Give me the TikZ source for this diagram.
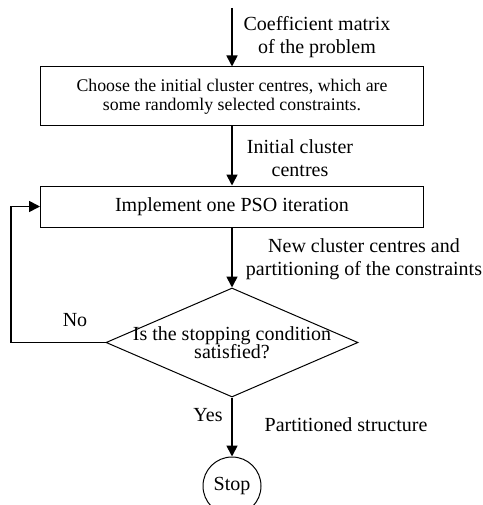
\documentclass[tikz,border=0pt]{standalone}
\usepackage{fontspec}
\setmainfont{Liberation Serif}
\usetikzlibrary{shapes,arrows.meta,calc,positioning}
\tikzset{>={Triangle[length=11pt,width=11pt]}}
\tikzset{
  procbox/.style={draw, line width=1pt, minimum width=383pt, inner sep=0pt, align=center},
  flowline/.style={line width=1.7pt, ->},
  lbl/.style={align=center, inner sep=0pt, font=\fontsize{20}{23}\selectfont},
}

\begin{document}
\begin{tikzpicture}[x=1pt,y=1pt]
  \useasboundingbox (0,0) rectangle (482,-505);

  \coordinate (in) at (232,-8);
  \node[procbox, minimum height=59pt, font=\fontsize{17.8}{19.5}\selectfont] (choose) at (232,-96.5)
    {Choose the initial cluster centres, which are\\some randomly selected constraints.};
  \node[procbox, minimum height=41pt, font=\fontsize{20}{23}\selectfont] (impl) at (232,-206.5)
    {Implement one PSO iteration};
  \node[draw, line width=1pt, diamond, aspect=2.31, inner xsep=-30pt, inner ysep=0pt,
        minimum width=252pt, minimum height=109pt, align=center,
        font=\fontsize{20}{18.5}\selectfont] (dec) at (232,-342.5)
    {Is the stopping condition\\satisfied?};
  \node[draw, line width=1pt, circle, minimum size=58pt, inner sep=0pt,
        font=\fontsize{20}{23}\selectfont] (stop) at (232,-486) {Stop};
  \coordinate (back) at (11,-342.5);

  % connectors
  \draw[flowline] (in) -- (choose.north);
  \draw[flowline] (choose.south) -- (impl.north);
  \draw[flowline] (impl.south) -- (dec.north);
  \draw[flowline] (dec.south) -- (stop.north);
  \draw[flowline] (dec.west) -- (back) |- (impl.west);

  % labels
  \node[lbl] (coef) at (317,-37) {Coefficient matrix\\of the problem};
  \node[lbl] (init) at (300,-158) {Initial cluster\\centres};
  \node[lbl] (newc) at (364,-259) {New cluster centres and\\partitioning of the constraints};
  \node[lbl] (no) at (75,-320) {No};
  \node[lbl] (yes) at (208,-415) {Yes};
  \node[lbl] (part) at (346,-425) {Partitioned structure};
\end{tikzpicture}
\end{document}
